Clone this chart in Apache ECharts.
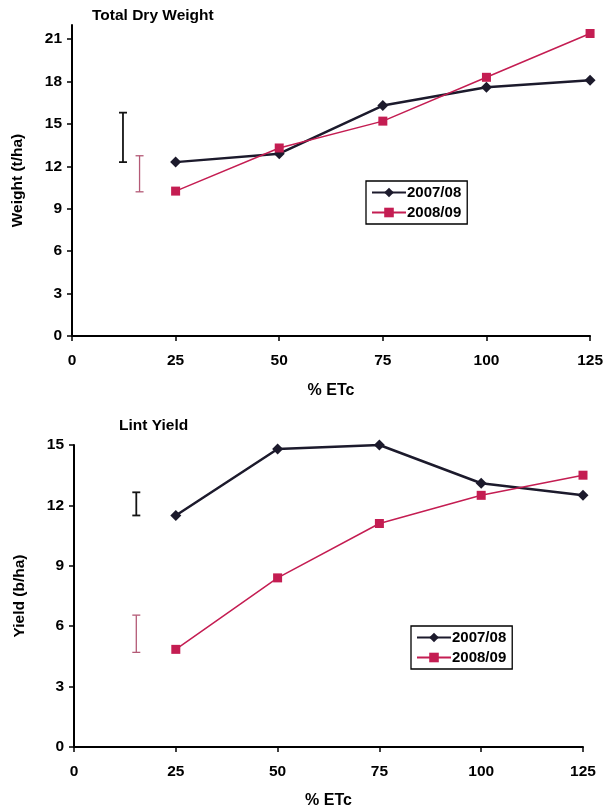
<!DOCTYPE html>
<html>
<head>
<meta charset="utf-8">
<script src="https://cdn.jsdelivr.net/npm/echarts@6/dist/echarts.min.js"></script>
<style>html,body{margin:0;padding:0;background:#fff;}#c{width:606px;height:810px;}</style>
</head>
<body>
<div id="c"></div>
<script>
const etc = [25, 50, 75, 100, 125];
const dryWeight0708 = [12.3, 12.9, 16.3, 17.6, 18.1];
const dryWeight0809 = [10.25, 13.3, 15.2, 18.3, 21.4];
const lint0708 = [11.5, 14.8, 15.0, 13.1, 12.5];
const lint0809 = [4.85, 8.4, 11.1, 12.5, 13.5];
const dryErrX = [12.3, 16.3];
const dryErrLow = [12.3, 10.2];
const dryErrHigh = [15.8, 12.75];
const lintErrX = [15.3, 15.3];
const lintErrLow = [11.5, 4.7];
const lintErrHigh = [12.65, 6.55];
const xTicks = [0, 25, 50, 75, 100, 125];
const dryTicks = [0, 3, 6, 9, 12, 15, 18, 21];
const lintTicks = [0, 3, 6, 9, 12, 15];
const seriesNames = ['2007/08', '2008/09'];

const FONT = 'Liberation Sans, Arial, sans-serif';
const C1 = '#1c1a2c';
const C2 = '#c41d52';
const ERR = ['#141414', '#b45a76'];

function pairs(xs, ys) { return xs.map((x, i) => [x, ys[i]]); }
function errData(xs, lo, hi) { return xs.map((x, i) => [x, lo[i], hi[i], i]); }

function errSeries(xi, yi, data) {
  return {
    type: 'custom', xAxisIndex: xi, yAxisIndex: yi, silent: true, z: 1,
    data: data,
    renderItem: function (params, api) {
      const x = api.value(0);
      const p1 = api.coord([x, api.value(1)]);
      const p2 = api.coord([x, api.value(2)]);
      const col = ERR[api.value(3)];
      const w = 4;
      const st = { stroke: col, lineWidth: api.value(3) === 0 ? 1.8 : 1.3 };
      return { type: 'group', children: [
        { type: 'line', shape: { x1: p1[0], y1: p1[1], x2: p2[0], y2: p2[1] }, style: st },
        { type: 'line', shape: { x1: p1[0] - w, y1: p1[1], x2: p1[0] + w, y2: p1[1] }, style: st },
        { type: 'line', shape: { x1: p2[0] - w, y1: p2[1], x2: p2[0] + w, y2: p2[1] }, style: st }
      ]};
    }
  };
}

const axisCommon = {
  axisLine: { show: true, lineStyle: { color: '#000', width: 2 } },
  axisTick: { show: true, length: 5, lineStyle: { color: '#000', width: 1.5 } },
  splitLine: { show: false },
  axisLabel: { color: '#000', fontFamily: FONT, fontWeight: 'bold', fontSize: 15.5 },
  nameTextStyle: { color: '#000', fontFamily: FONT, fontWeight: 'bold', fontSize: 15.5 }
};

function xAxis(gi, gap) {
  return Object.assign({}, JSON.parse(JSON.stringify(axisCommon)), {
    type: 'value', gridIndex: gi, min: 0, max: 125, interval: 25,
    name: '% ETc', nameLocation: 'middle', nameGap: gap,
    nameTextStyle: Object.assign({}, axisCommon.nameTextStyle, { fontSize: 16 }),
    axisLabel: Object.assign({}, axisCommon.axisLabel, { margin: 17, customValues: xTicks }),
    axisTick: Object.assign({}, axisCommon.axisTick, { customValues: xTicks })
  });
}
function yAxis(gi, max, ticks, name) {
  return Object.assign({}, JSON.parse(JSON.stringify(axisCommon)), {
    type: 'value', gridIndex: gi, min: 0, max: max, interval: 3,
    name: name, nameLocation: 'middle', nameGap: 46, nameRotate: 90,
    axisLabel: Object.assign({}, axisCommon.axisLabel, { margin: 10, customValues: ticks }),
    axisTick: Object.assign({}, axisCommon.axisTick, { customValues: ticks })
  });
}

function lineSeries(name, xi, yi, ys, color, symbol, width, size) {
  return {
    name: name, type: 'line', xAxisIndex: xi, yAxisIndex: yi, z: 3,
    data: pairs(etc, ys), symbol: symbol, symbolSize: size, showSymbol: true,
    lineStyle: { color: color, width: width }, itemStyle: { color: color }
  };
}

const legendBase = {
  orient: 'vertical', data: seriesNames,
  borderColor: '#000', borderWidth: 1.3, padding: [4, 6, 4, 5], itemGap: 5,
  itemWidth: 34, itemHeight: 12,
  textStyle: { color: '#000', fontFamily: FONT, fontWeight: 'bold', fontSize: 15, padding: [0, 0, 0, -4] }
};

const chart = echarts.init(document.getElementById('c'), null, { renderer: 'canvas' });
chart.setOption({
  animation: false,
  backgroundColor: '#fff',
  title: [
    { text: 'Total Dry Weight', left: 92, top: 8, padding: 0,
      textStyle: { color: '#000', fontFamily: FONT, fontWeight: 'bold', fontSize: 15.5 } },
    { text: 'Lint Yield', left: 119, top: 418, padding: 0,
      textStyle: { color: '#000', fontFamily: FONT, fontWeight: 'bold', fontSize: 15.5 } }
  ],
  legend: [
    Object.assign({}, legendBase, { left: 366, top: 181 }),
    Object.assign({}, legendBase, { left: 411, top: 626 })
  ],
  grid: [
    { left: 72, right: 12, top: 25, height: 311 },
    { left: 74, right: 23, top: 445, height: 304 }
  ],
  xAxis: [xAxis(0, 47), xAxis(1, 46)],
  yAxis: [yAxis(0, 22, dryTicks, 'Weight (t/ha)'), yAxis(1, 15, lintTicks, 'Yield (b/ha)')],
  series: [
    errSeries(0, 0, errData(dryErrX, dryErrLow, dryErrHigh)),
    errSeries(1, 1, errData(lintErrX, lintErrLow, lintErrHigh)),
    lineSeries(seriesNames[0], 0, 0, dryWeight0708, C1, 'diamond', 2.5, 11),
    lineSeries(seriesNames[1], 0, 0, dryWeight0809, C2, 'rect', 1.5, 9),
    lineSeries(seriesNames[0], 1, 1, lint0708, C1, 'diamond', 2.5, 11),
    lineSeries(seriesNames[1], 1, 1, lint0809, C2, 'rect', 1.5, 9)
  ]
});
</script>
</body>
</html>
